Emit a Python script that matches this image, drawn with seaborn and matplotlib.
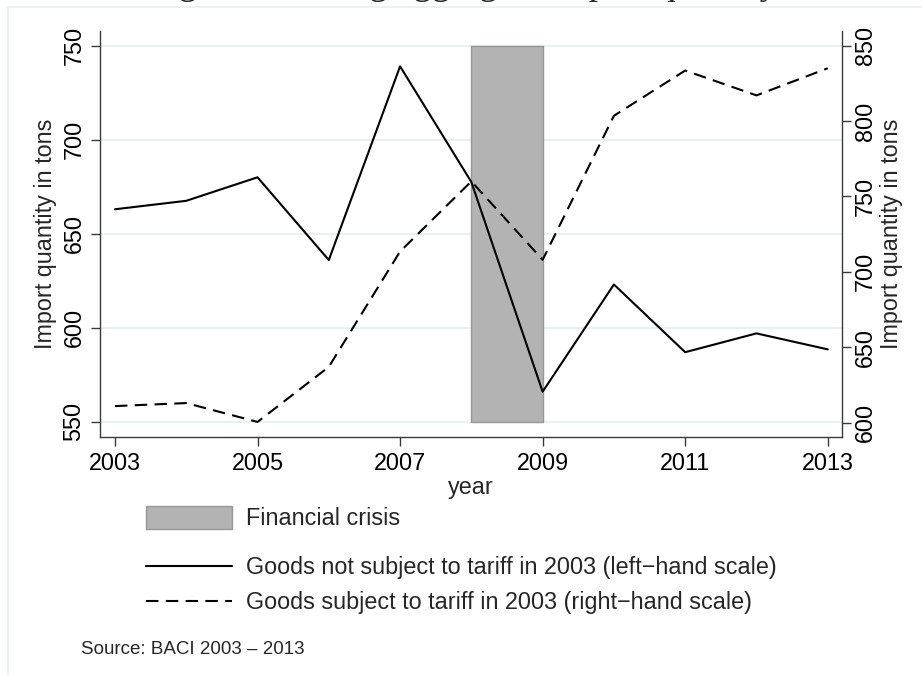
import numpy as np
import pandas as pd
import matplotlib
matplotlib.use("Agg")
import matplotlib.pyplot as plt
from matplotlib import font_manager
from matplotlib.lines import Line2D
from matplotlib.patches import Patch
import seaborn as sns

# ---- data -------------------------------------------------------------
years = [2003, 2004, 2005, 2006, 2007, 2008, 2009, 2010, 2011, 2012, 2013]
not_subject = [663, 667.5, 680, 636, 739, 677.5, 566, 623, 587, 597, 588.5]   # left scale
subject = [611, 613, 600.5, 637, 713.5, 760, 708, 803.5, 833.5, 817, 835]     # right scale
crisis_years = [2008, 2009]
crisis_range = [550, 750]
left_ticks = [550, 600, 650, 700, 750]
right_ticks = [600, 650, 700, 750, 800, 850]
x_ticks = [2003, 2005, 2007, 2009, 2011, 2013]

labels = ["Financial crisis",
          "Goods not subject to tariff in 2003 (left\u2212hand scale)",
          "Goods subject to tariff in 2003 (right\u2212hand scale)"]
ylabel = "Import quantity in tons"
xlabel = "year"
source = "Source: BACI 2003 \u2013 2013"
title = "Figure 2: Rising aggregate import quantity"

df = pd.DataFrame({"year": years, "not_subject": not_subject, "subject": subject})

# ---- style ------------------------------------------------------------
sns.set_style("white")
installed = {f.name for f in font_manager.fontManager.ttflist}
if "Liberation Sans Narrow" in installed:
    fam, fs = ["Liberation Sans Narrow", "DejaVu Sans"], 19
else:
    fam, fs = ["Liberation Sans", "DejaVu Sans"], 16.8
plt.rcParams["font.family"] = fam

W, H = 922, 675
fig = plt.figure(figsize=(W / 100, H / 100), dpi=100)
fig.patch.set_facecolor("white")

def px(x0, y0, x1, y1):
    return [x0 / W, 1 - y1 / H, (x1 - x0) / W, (y1 - y0) / H]

ax = fig.add_axes(px(100, 31, 842, 437))
ax2 = ax.twinx()

grid_c = "#E8F0F2"
axis_c = "#3a3a3a"
band_face, band_edge = "#B3B3B3", "#969696"

# horizontal grid at left-axis ticks
for v in left_ticks:
    ax.axhline(v, color=grid_c, lw=1.5, zorder=0)

# financial crisis band
ax.fill_between(crisis_years, crisis_range[0], crisis_range[1],
                facecolor=band_face, edgecolor=band_edge, lw=1.0, zorder=1)

sns.lineplot(data=df, x="year", y="not_subject", ax=ax, color="black",
             linewidth=1.5, legend=False, zorder=3)
sns.lineplot(data=df, x="year", y="subject", ax=ax2, color="black",
             linewidth=1.5, legend=False, zorder=3)
dash = (6, 3.5)
ax2.lines[0].set_dashes(dash)

ax.set_xlim(2002.79, 2013.2)
ax.set_ylim(541.9, 757.8)
ax2.set_ylim(590.5, 859.7)
ax.set_xticks(x_ticks)
ax.set_yticks(left_ticks)
ax2.set_yticks(right_ticks)

for a in (ax, ax2):
    for s in a.spines.values():
        s.set_visible(False)
        s.set_color(axis_c)
        s.set_linewidth(1.0)
ax.spines["left"].set_visible(True)
ax.spines["bottom"].set_visible(True)
ax2.spines["right"].set_visible(True)

ax.tick_params(axis="both", direction="out", length=6.5, width=1.0, color=axis_c,
               labelsize=fs, labelcolor="black")
ax.tick_params(axis="x", pad=4, bottom=True)
ax.tick_params(axis="y", pad=4, left=True)
ax2.tick_params(axis="y", direction="out", length=6.5, width=1.0, color=axis_c,
                labelsize=fs, labelcolor="black", pad=2, right=True)
for t in ax.get_yticklabels() + ax2.get_yticklabels():
    t.set_rotation(90)
    t.set_va("center")

ax.set_xlabel(xlabel, fontsize=fs, labelpad=1)
ax.set_ylabel(ylabel, fontsize=fs, labelpad=4)
ax2.set_ylabel(ylabel, fontsize=fs, labelpad=2, rotation=90)
ax.patch.set_visible(False)

# legend below the plot: the band key, then the two series
fs_px = fs * 100 / 72
hl = 86 / fs_px
band_leg = fig.legend([Patch(facecolor=band_face, edgecolor=band_edge, lw=1.0)],
                      labels[:1], loc="center left",
                      bbox_to_anchor=(146 / W, 1 - 518 / H), frameon=False,
                      fontsize=fs, borderpad=0, borderaxespad=0, handlelength=hl,
                      handleheight=26 / fs_px, handletextpad=0.6)
line_leg = fig.legend([Line2D([], [], color="black", lw=1.5),
                       Line2D([], [], color="black", lw=1.5, dashes=dash)],
                      labels[1:], loc="center left",
                      bbox_to_anchor=(146 / W, 1 - 585 / H), frameon=False,
                      fontsize=fs, borderpad=0, borderaxespad=0, handlelength=hl,
                      handletextpad=0.6, labelspacing=0.5)

fig.text(81 / W, 1 - 649 / H, source, fontsize=13.5, va="center", ha="left")

# page title, mostly above the visible area
fig.text(148 / W, 1 + 6 / H, title, fontsize=26.6,
         family=["Liberation Serif", "DejaVu Serif"], va="baseline", ha="left")

# faint outer frame of the graph region
fig.add_artist(Line2D([8 / W, 1], [1 - 7 / H, 1 - 7 / H], color=grid_c, lw=1.2,
                      transform=fig.transFigure))
fig.add_artist(Line2D([8 / W, 8 / W], [0, 1 - 7 / H], color=grid_c, lw=1.2,
                      transform=fig.transFigure))

fig.savefig("out.png", dpi=100)
